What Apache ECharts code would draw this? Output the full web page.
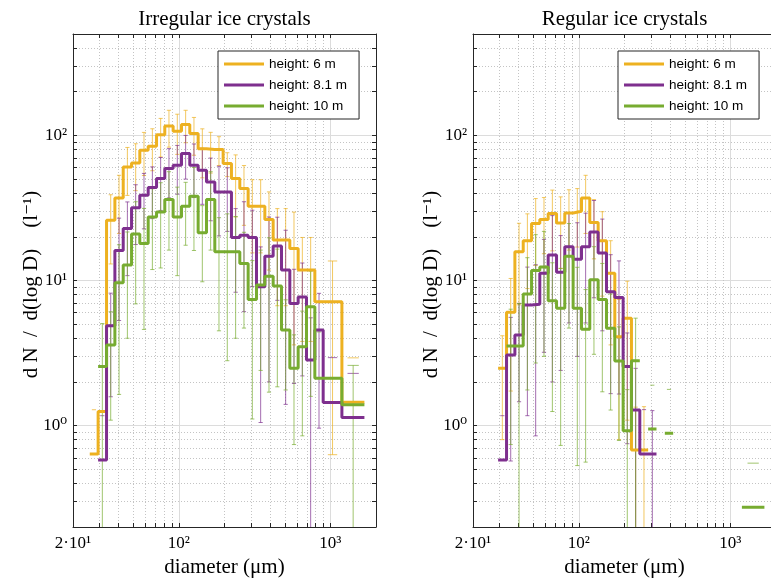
<!DOCTYPE html>
<html><head><meta charset="utf-8">
<script src="https://cdn.jsdelivr.net/npm/echarts@6/dist/echarts.min.js"></script>
<style>html,body{margin:0;padding:0;background:#fff}#c{width:771px;height:580px}</style>
</head><body><div id="c"></div>
<script>
// ---------- data ----------
const binEdges = [25.8, 29.3, 33.3, 37.8, 42.9, 48.7, 55.2, 62.7, 71.2, 80.7, 91.6, 104.0, 118.0, 134.0, 152.1, 172.6, 195.9, 222.3, 252.4, 286.5, 325.2, 369.2, 419.0, 475.6, 539.8, 612.7, 695.5, 789.4, 896.0, 1191, 1677];

const seriesNames = ['height: 6 m', 'height: 8.1 m', 'height: 10 m'];
const panelTitles = ['Irregular ice crystals', 'Regular ice crystals'];

// Irregular ice crystals
const irr6     = [0.636, 1.25, 26.0, 37.1, 60.6, 64.6, 78.9, 84.1, 101, 116, 107, 119, 103, 81, 80, 80, 64, 50.4, 43.0, 32.5, 32.5, 26.3, 19.0, 19.0, 16.6, 11.8, 11.8, 7.13, 7.13, 1.45];
const irr6Err  = [0.65, 1.3, 13, 16, 22, 23, 26, 27, 30, 33, 33, 30, 30, 30, 25, 18, 12, 23, 19, 17, 17, 14.5, 12.3, 12.3, 13, 8, 8, null, 6.5, 1.48];
const irr81    = [null, 0.58, 4.88, 16.1, 22.8, 31.7, 38.7, 43.7, 50.4, 59.1, 62.3, 75.0, 62.3, 57.5, 47.8, 40.8, 40.8, 19.8, 20.5, 19.8, 9.05, 14.7, 17.3, 11.8, 6.95, 7.7, 2.83, 4.56, 1.44, 1.135];
const irr81Err = [null, 0.59, 3.3, 10.8, 12, 14, 16, 17, 20, 22, 23, 25, 25, 24, 22, 20.5, 19, 11.5, 14.4, 10.7, 8, 12.7, 10, 10.4, 5, 5.5, 2.7, 3.6, 1.5, 1.155];
const irr10    = [null, 2.55, 3.59, 9.64, 12.8, 20.9, 18.0, 27.4, 29.7, 36.2, 27.4, 32.5, 38.1, 21.3, 36.2, 15.8, 15.8, 15.8, 13.1, 7.41, 9.3, 10.7, 9.15, 4.56, 2.48, 3.50, 6.59, 2.12, 2.12, 1.39];
const irr10Err = [null, 2.5, 2.5, 8, 8.8, 14, 13.4, 15.5, 17.5, 20, 16.6, 15, 22, 11.5, 20, 11.3, 13, 11.8, 8.4, 6.3, 6.9, 9, 7.3, 2.8, 1.74, 2.65, 5, 2.3, null, 1.21];

// Regular ice crystals
const reg6     = [null, 2.48, 6.03, 15.8, 18.8, 24.7, 26.3, 29.0, 24.9, 29.2, 30.0, 37.1, 25.1, 18.8, 11.2, 4.10, 5.49, 0.68, 0.68, null, null, null, null, null, null, null, null, null, null, null];
const reg6Err  = [null, 1.68, 4.3, 9, 10, 12, 11, 13, 12.8, 13, 13, 16, 11, 11, 7.6, 3.3, 4.4, 0.66, 0.67, null, null, null, null, null, null, null, null, null, null, null];
const reg81    = [null, 0.58, 3.07, 4.21, 6.77, 6.85, 11.2, 15.0, 11.4, 17.1, 14.0, 17.1, 21.6, 15.5, 8.36, 7.65, 2.55, 1.28, 0.638, 0.638, null, null, null, null, null, null, null, null, null, null];
const reg81Err = [null, 0.59, 2.5, 2.75, 5.6, 6, 8, 13, 9, 12, 11, 12, 14, 11, 6.7, 6, 1.8, 1.2, 0.65, 0.63, null, null, null, null, null, null, null, null, null, null];
const reg10    = [null, null, 3.54, 3.54, 8.06, 11.7, 12.4, 7.25, 6.43, 14.7, 6.43, 4.61, 10.1, 7.41, 4.68, 2.79, 0.92, 2.80, null, 0.949, null, 0.886, null, null, null, null, null, null, null, 0.274];
const reg10Err = [null, null, 2.8, 3.4, 6.3, 9, 9.4, 6, 5.7, 10, 5.9, 4.05, 7, 5.7, 3.4, 2.0, 0.85, 2.7, null, 0.95, null, 0.89, null, null, null, null, null, null, null, 0.277];

// axis ticks / labels
const xMin = 20, xMax = 2000, yMin = 0.2, yMax = 500;
const xTickValues = [30, 40, 50, 60, 70, 80, 90, 100, 200, 300, 400, 500, 600, 700, 800, 900, 1000];
const xMajorValues = [100, 1000];
const xLabelValues = [20, 100, 1000];
const xLabelTexts = ['2·10¹', '10²', '10³'];
const yTickValues = [0.3, 0.4, 0.5, 0.6, 0.7, 0.8, 0.9, 1, 2, 3, 4, 5, 6, 7, 8, 9, 10, 20, 30, 40, 50, 60, 70, 80, 90, 100, 200, 300, 400];
const yMajorValues = [1, 10, 100];
const yLabelValues = [1, 10, 100];
const yLabelTexts = ['10⁰', '10¹', '10²'];

// ---------- styling ----------
const colors = ['#EDB120', '#7E2F8E', '#77AC30'];
const errColors = ['rgba(237,177,32,0.7)', 'rgba(126,47,142,0.7)', 'rgba(119,172,48,0.7)'];
const serif = '"Liberation Serif", "DejaVu Serif", serif';
const gridsPx = [{left: 73, top: 34, width: 303, height: 493}, {left: 473, top: 34, width: 303, height: 493}];
const frameColor = '#262626';

function stairs(vals) {
  const pts = [];
  for (let i = 0; i < vals.length; i++) {
    const v = vals[i];
    if (v == null) { if (pts.length && pts[pts.length - 1][1] !== '-') pts.push([binEdges[i], '-']); continue; }
    pts.push([binEdges[i], v], [binEdges[i + 1], v]);
  }
  return pts;
}
function errData(vals, errs) {
  const out = [];
  for (let i = 0; i < vals.length; i++) {
    if (vals[i] == null || errs[i] == null) continue;
    const a = binEdges[i], b = binEdges[i + 1];
    const c = Math.sqrt(a * b);
    const r = Math.pow(b / a, 0.25);
    out.push([c, vals[i], errs[i], c / r, c * r]);
  }
  return out;
}
function makeErrRender(color) {
  return function (params, api) {
    const x = api.value(0), v = api.value(1), e = api.value(2), cl = api.value(3), ch = api.value(4);
    const up = v + e, lo = v - e;
    const pu = api.coord([x, up]);
    const pul = api.coord([cl, up]), puh = api.coord([ch, up]);
    const st = {stroke: color, lineWidth: 1};
    const ch_ = [{type: 'line', shape: {x1: pul[0], y1: pu[1], x2: puh[0], y2: pu[1]}, style: st}];
    if (lo > 0) {
      const pl = api.coord([x, Math.max(lo, yMin)]);
      ch_.push({type: 'line', shape: {x1: pu[0], y1: pu[1], x2: pl[0], y2: pl[1]}, style: st});
      if (lo >= yMin) {
        const pll = api.coord([cl, lo]), plh = api.coord([ch, lo]);
        ch_.push({type: 'line', shape: {x1: pll[0], y1: pl[1], x2: plh[0], y2: pl[1]}, style: st});
      }
    }
    return {type: 'group', children: ch_};
  };
}

const panels = [
  {vals: [irr6, irr81, irr10], errs: [irr6Err, irr81Err, irr10Err]},
  {vals: [reg6, reg81, reg10], errs: [reg6Err, reg81Err, reg10Err]}
];

const xAxes = [], yAxes = [], series = [], grids = [], legends = [], graphics = [];
const xFmt = v => { const k = xLabelValues.findIndex(t => Math.abs(t - v) < 1e-6 * t); return k >= 0 ? xLabelTexts[k] : ''; };
const yFmt = v => { const k = yLabelValues.findIndex(t => Math.abs(t - v) < 1e-6 * t); return k >= 0 ? yLabelTexts[k] : ''; };

gridsPx.forEach((g, gi) => {
  grids.push(Object.assign({outerBoundsMode: 'none', containLabel: false}, g));
  const base = {type: 'log', logBase: 10, gridIndex: gi, min: xMin, max: xMax};
  const xi = xAxes.length;
  xAxes.push(Object.assign({}, base, {position: 'bottom',
    axisLine: {show: true, lineStyle: {color: frameColor, width: 1}},
    axisTick: {show: true, inside: true, length: 4, customValues: xTickValues, lineStyle: {color: frameColor}},
    axisLabel: {show: true, customValues: xLabelValues, formatter: xFmt, fontFamily: serif, fontSize: 17, color: '#000', margin: 8},
    splitLine: {show: true, lineStyle: {type: [1, 2], color: '#c4c4c4', width: 1}},
    minorTick: {show: false}, minorSplitLine: {show: false}}));
  xAxes.push(Object.assign({}, base, {position: 'top',
    axisLine: {show: true, lineStyle: {color: frameColor, width: 1}},
    axisTick: {show: true, inside: true, length: 4, customValues: xTickValues, lineStyle: {color: frameColor}},
    axisLabel: {show: false}, splitLine: {show: false}}));
  xAxes.push(Object.assign({}, base, {position: 'bottom',
    axisLine: {show: false}, axisTick: {show: false, customValues: xMajorValues},
    axisLabel: {show: false}, splitLine: {show: true, lineStyle: {type: 'solid', color: '#dcdcdc', width: 1}}}));
  const ybase = {type: 'log', logBase: 10, gridIndex: gi, min: yMin, max: yMax};
  const yi = yAxes.length;
  yAxes.push(Object.assign({}, ybase, {position: 'left',
    axisLine: {show: true, lineStyle: {color: frameColor, width: 1}},
    axisTick: {show: true, inside: true, length: 4, customValues: yTickValues, lineStyle: {color: frameColor}},
    axisLabel: {show: true, customValues: yLabelValues, formatter: yFmt, fontFamily: serif, fontSize: 17, color: '#000', margin: 6},
    splitLine: {show: true, lineStyle: {type: [1, 2], color: '#c4c4c4', width: 1}},
    minorTick: {show: false}, minorSplitLine: {show: false}}));
  yAxes.push(Object.assign({}, ybase, {position: 'right',
    axisLine: {show: true, lineStyle: {color: frameColor, width: 1}},
    axisTick: {show: true, inside: true, length: 4, customValues: yTickValues, lineStyle: {color: frameColor}},
    axisLabel: {show: false}, splitLine: {show: false}}));
  yAxes.push(Object.assign({}, ybase, {position: 'left',
    axisLine: {show: false}, axisTick: {show: false, customValues: yMajorValues},
    axisLabel: {show: false}, splitLine: {show: true, lineStyle: {type: 'solid', color: '#dcdcdc', width: 1}}}));

  const p = panels[gi];
  for (let s = 0; s < 3; s++) {
    series.push({type: 'custom', name: 'err' + gi + s, xAxisIndex: xi, yAxisIndex: yi,
      data: errData(p.vals[s], p.errs[s]), renderItem: makeErrRender(errColors[s]),
      encode: {x: 0, y: 1}, z: 2, silent: true, clip: false});
  }
  for (let s = 0; s < 3; s++) {
    series.push({type: 'line', name: seriesNames[s], xAxisIndex: xi, yAxisIndex: yi,
      data: stairs(p.vals[s]), showSymbol: false, symbol: 'none', connectNulls: false,
      lineStyle: {color: colors[s], width: 3}, itemStyle: {color: colors[s]}, z: 3 + s, silent: true});
  }
  legends.push({orient: 'vertical', left: g.left + 145, top: 51, data: seriesNames, icon: 'rect',
    itemWidth: 40, itemHeight: 3, itemGap: 5, padding: [5, 12, 5, 6], selectedMode: false,
    borderColor: frameColor, borderWidth: 1, backgroundColor: '#fff',
    textStyle: {fontFamily: '"Liberation Sans", Arial, sans-serif', fontSize: 13.5, color: '#000', lineHeight: 16}});
  const cx = g.left + g.width / 2;
  graphics.push({type: 'text', x: cx, y: 19, style: {text: panelTitles[gi], font: '21px ' + serif, fill: '#000', textAlign: 'center', textVerticalAlign: 'middle'}});
  graphics.push({type: 'text', x: cx, y: 567, style: {text: 'diameter (μm)', font: '21px ' + serif, fill: '#000', textAlign: 'center', textVerticalAlign: 'middle'}});
  graphics.push({type: 'text', x: g.left - 42, y: g.top + g.height / 2 + 4, rotation: Math.PI / 2, style: {text: 'd N  /  d(log D)    (l⁻¹)', font: '21px ' + serif, fill: '#000', textAlign: 'center', textVerticalAlign: 'middle'}});
});

const chart = echarts.init(document.getElementById('c'), null, {renderer: 'canvas'});
chart.setOption({
  animation: false, backgroundColor: '#fff',
  grid: grids, xAxis: xAxes, yAxis: yAxes, series: series, legend: legends, graphic: graphics,
  tooltip: {show: false}
});
</script></body></html>
